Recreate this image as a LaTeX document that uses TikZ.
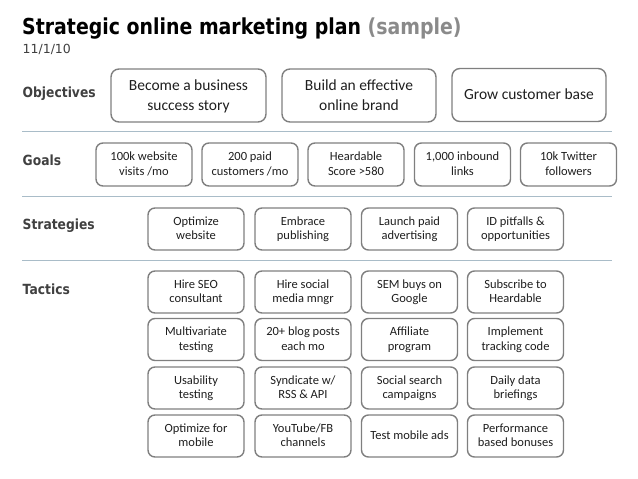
\documentclass[tikz,border=0pt]{standalone}
\usepackage{fontspec}
\usepackage{graphicx}
\setmainfont{Carlito}
\newfontfamily\vfont{DejaVu Sans}
\definecolor{boxgray}{HTML}{7F7F7F}
\definecolor{txt}{HTML}{1E1E1E}
\definecolor{lblgray}{HTML}{404040}
\definecolor{samplegray}{HTML}{8A8A8A}
\definecolor{rulecol}{HTML}{A9BCC8}
\tikzset{
  basebox/.style={draw=boxgray, line width=1.4bp, align=center, inner sep=0pt, text=txt},
  objbox/.style={basebox, rounded corners=8bp, minimum height=53bp,
    font=\fontsize{15.5bp}{20bp}\selectfont},
  smallbox/.style={basebox, rounded corners=7bp, minimum width=96bp, minimum height=42bp,
    font=\fontsize{12.5bp}{14.5bp}\selectfont},
  rowlabel/.style={anchor=base west, inner sep=0pt, text=lblgray},
  sepline/.style={draw=rulecol, line width=1bp}
}
\newcommand{\lbltext}[1]{\scalebox{0.88}[1]{\vfont\bfseries\fontsize{14bp}{16bp}\selectfont #1}}
\newcommand{\mystrut}{\rule[-0.25\baselineskip]{0pt}{\baselineskip}}
\newcommand{\two}[2]{\mystrut #1\\\mystrut #2}
\newcommand{\one}[1]{\mystrut #1}
\begin{document}
\begin{tikzpicture}[x=1bp,y=-1bp]
\useasboundingbox (0,0) rectangle (638,479);
% title
\node[anchor=base west, inner sep=0pt] (title) at (22,35)
  {\scalebox{0.86}[1]{\vfont\bfseries\fontsize{22bp}{26bp}\selectfont Strategic online marketing plan \textcolor{samplegray}{(sample)}}};
\node[anchor=base west, inner sep=0pt, text=lblgray] (date) at (22.5,54)
  {\vfont\fontsize{12.5bp}{15bp}\selectfont 11/1/10};
% row labels
\node[rowlabel] (lobj) at (22.5,97.7) {\lbltext{Objectives}};
\node[rowlabel] (lgoal) at (22.5,166) {\lbltext{Goals}};
\node[rowlabel] (lstr) at (22.5,230) {\lbltext{Strategies}};
\node[rowlabel] (ltac) at (22.5,294) {\lbltext{Tactics}};
% separators
\coordinate (s1a) at (22,132); \coordinate (s1b) at (612,132);
\coordinate (s2a) at (22,196.5); \coordinate (s2b) at (612,196.5);
\coordinate (s3a) at (22,260); \coordinate (s3b) at (612,260);
\draw[sepline] (s1a) -- (s1b);
\draw[sepline] (s2a) -- (s2b);
\draw[sepline] (s3a) -- (s3b);
% objectives
\node[objbox, minimum width=155bp] (o1) at (188.5,95.5) {\two{Become a business}{success story}};
\node[objbox, minimum width=154bp] (o2) at (359,95.5) {\two{Build an effective}{online brand}};
\node[objbox, minimum width=154bp] (o3) at (529,95) {\one{Grow customer base}};
% goals
\node[smallbox, minimum height=43bp] (g1) at (144,164.5) {\two{100k website}{visits /mo}};
\node[smallbox, minimum height=43bp] (g2) at (250,164.5) {\two{200 paid}{customers /mo}};
\node[smallbox, minimum height=43bp] (g3) at (356,164.5) {\two{Heardable}{Score >580}};
\node[smallbox, minimum height=43bp] (g4) at (462.5,164.5) {\two{1,000 inbound}{links}};
\node[smallbox, minimum height=43bp] (g5) at (568.5,164.5) {\two{10k Twitter}{followers}};
% strategies
\node[smallbox] (st1) at (196,229) {\two{Optimize}{website}};
\node[smallbox] (st2) at (303,229) {\two{Embrace}{publishing}};
\node[smallbox] (st3) at (409.5,229) {\two{Launch paid}{advertising}};
\node[smallbox] (st4) at (515.5,229) {\two{ID pitfalls \&}{opportunities}};
% tactics row 1
\node[smallbox] (t11) at (196,292) {\two{Hire SEO}{consultant}};
\node[smallbox] (t12) at (303,292) {\two{Hire social}{media mngr}};
\node[smallbox] (t13) at (409.5,292) {\two{SEM buys on}{Google}};
\node[smallbox] (t14) at (515.5,292) {\two{Subscribe to}{Heardable}};
% tactics row 2
\node[smallbox] (t21) at (196,339.5) {\two{Multivariate}{testing}};
\node[smallbox] (t22) at (303,339.5) {\two{20+ blog posts}{each mo}};
\node[smallbox] (t23) at (409.5,339.5) {\two{Affiliate}{program}};
\node[smallbox] (t24) at (515.5,339.5) {\two{Implement}{tracking code}};
% tactics row 3
\node[smallbox] (t31) at (196,388) {\two{Usability}{testing}};
\node[smallbox] (t32) at (303,388) {\two{Syndicate w/}{RSS \& API}};
\node[smallbox] (t33) at (409.5,388) {\two{Social search}{campaigns}};
\node[smallbox] (t34) at (515.5,388) {\two{Daily data}{briefings}};
% tactics row 4
\node[smallbox] (t41) at (196,436) {\two{Optimize for}{mobile}};
\node[smallbox] (t42) at (303,436) {\two{YouTube/FB}{channels}};
\node[smallbox] (t43) at (409.5,436) {\one{Test mobile ads}};
\node[smallbox] (t44) at (515.5,436) {\two{Performance}{based bonuses}};
\end{tikzpicture}
\end{document}
